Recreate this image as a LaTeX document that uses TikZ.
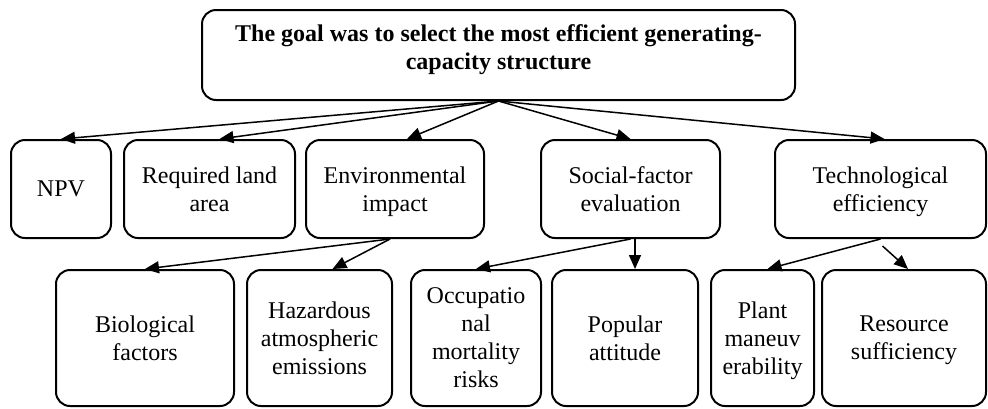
\documentclass[tikz,border=0pt]{standalone}
\usepackage{fontspec}
\setmainfont{Liberation Serif}
\usetikzlibrary{arrows.meta}

\begin{document}
\begin{tikzpicture}[x=0.5pt,y=-0.5pt,
		box/.style={draw,line width=1pt,rounded corners=7pt,align=center,inner sep=2pt,font=\fontsize{12}{14}\selectfont},
		upper/.style={box,minimum height=49pt,text depth=0pt},
		lower/.style={box,minimum height=68pt,text depth=-1.5pt},
		arr/.style={-{Triangle[length=7pt,width=6pt]},line width=0.75pt}]
					\useasboundingbox (0,0) rectangle (988,408);
					
					% goal at the top, its text sits a little high in the box
					\node[draw,line width=1pt,rounded corners=7pt,minimum width=296.5pt,minimum height=45pt,
						label={[font=\bfseries\fontsize{12}{14}\selectfont,align=center,yshift=2.75pt]center:The goal was to select the most efficient generating-\\capacity structure}] (goal) at (498.5,55) {};
					
					% criteria
					\node[upper,minimum width=50pt] (npv) at (61,189) {NPV};
					\node[upper,minimum width=85.5pt] (land) at (209.5,189) {Required land\\area};
					\node[upper,minimum width=89pt] (env) at (395,189) {Environmental\\impact};
					\node[upper,minimum width=89.5pt] (social) at (630.5,189) {Social-factor\\evaluation};
					\node[upper,minimum width=105.5pt] (tech) at (880.5,189) {Technological\\efficiency};
					
					% sub-criteria
					\node[lower,minimum width=89pt] (bio) at (145,338) {Biological\\factors};
					\node[lower,minimum width=72.5pt] (haz) at (319.5,338) {Hazardous\\atmospheric\\emissions};
					\node[lower,minimum width=65pt] (occ) at (476,338) {Occupatio\\nal\\mortality\\risks};
					\node[lower,minimum width=73pt] (pop) at (625,338) {Popular\\attitude};
					\node[lower,minimum width=51.5pt] (plant) at (762.5,338) {Plant\\maneuv\\erability};
					\node[lower,minimum width=82pt] (res) at (904,338) {Resource\\sufficiency};
					
					\draw[arr] (goal.south) -- (npv.north);
					\draw[arr] (goal.south) -- ([xshift=5pt]land.north);
					\draw[arr] (goal.south) -- ([xshift=6pt]env.north);
					\draw[arr] (goal.south) -- (social.north);
					\draw[arr] (goal.south) -- ([xshift=2pt]tech.north);
					
					\draw[arr] ([xshift=-2.5pt]env.south) -- (bio.north);
					\draw[arr] ([xshift=-2.5pt]env.south) -- ([xshift=6.5pt]haz.north);
					
					\coordinate (popin) at ([xshift=5pt]pop.north);
					\draw[arr] (social.south) -- (occ.north);
					\draw[arr] (social.south -| popin) -- (popin);
					
					\coordinate (techout) at ([xshift=1pt,yshift=-3.5pt]tech.south);
					\draw[arr] (tech.south) -- ([xshift=2.5pt]plant.north);
					\draw[arr] (techout) -- ([xshift=2pt]res.north);
					
				\end{tikzpicture}
\end{document}
